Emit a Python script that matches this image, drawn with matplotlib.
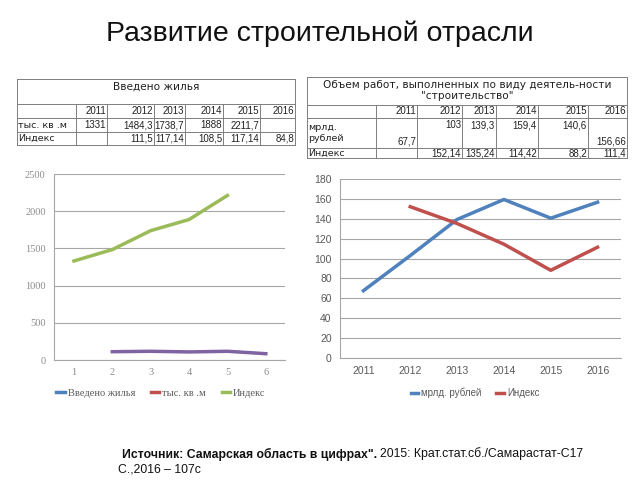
import matplotlib.pyplot as plt

years = [2011, 2012, 2013, 2014, 2015, 2016]
housing = [1331, 1484.3, 1738.7, 1888, 2211.7, None]
housing_idx = [None, 111.5, 117.14, 108.5, 117.14, 84.8]
works = [67.7, 103, 139.3, 159.4, 140.6, 156.66]
works_idx = [None, 152.14, 135.24, 114.42, 88.2, 111.4]

left_title = "Введено жилья"
left_rows = ["тыс. кв .м", "Индекс"]
right_title = "Объем работ, выполненных по виду деятель-ности\n\"строительство\""
right_rows = ["мрлд.\nрублей", "Индекс"]
left_legend = ["Введено жилья", "тыс. кв .м", "Индекс"]
right_legend = ["мрлд. рублей", "Индекс"]

BLUE, RED, GREEN, PURPLE = "#4F81BD", "#C0504D", "#9BBB59", "#8064A2"
GRID = "#a6a6a6"
TXT = "#595959"

plt.rcParams['font.family'] = ['Liberation Sans', 'DejaVu Sans']


def fmt(v):
    return "" if v is None else f"{v:g}".replace('.', ',')


fig = plt.figure(figsize=(6.4, 4.8), dpi=100)
ov = fig.add_axes([0, 0, 1, 1])
ov.set_xlim(0, 640)
ov.set_ylim(480, 0)
ov.axis('off')

ov.text(320, 34, "Развитие строительной отрасли", fontsize=20.5, ha='center', va='center', color='#111111')


def table(cx, ry, title, labels, rows, row_va):
    lc = "#7f7f7f"
    for y in ry:
        ov.plot([cx[0], cx[-1]], [y, y], color=lc, lw=0.7)
    for i, x in enumerate(cx):
        top = ry[0] if i in (0, len(cx) - 1) else ry[1]
        ov.plot([x, x], [top, ry[-1]], color=lc, lw=0.7)
    ov.text((cx[0] + cx[-1]) / 2, ry[0] + 3, title, ha='center', va='top', fontsize=7.6, color='#222222',
            linespacing=1.1, family='DejaVu Sans')
    for j, yr in enumerate(years):
        ov.text(cx[j + 2] - 1, (ry[1] + ry[2]) / 2, str(yr), ha='right', va='center', fontsize=7,
                color='#222222')
    for r, (lab, vals) in enumerate(zip(labels, rows)):
        y0, y1 = ry[2 + r], ry[3 + r]
        ov.text(cx[0] + 1, (y0 + y1) / 2, lab, ha='left', va='center', fontsize=6.8, color='#222222',
                linespacing=1.2, family='DejaVu Sans')
        for j, v in enumerate(vals):
            va = row_va[r][j]
            yy = {'center': (y0 + y1) / 2, 'top': y0 + 2, 'bottom': y1 - 1}[va]
            ov.text(cx[j + 2] - 1, yy, fmt(v), ha='right', va=va, fontsize=7, color='#222222')


table([17, 76, 107, 154, 185, 223, 260, 295], [79, 104, 118, 132, 145], left_title, left_rows,
      [housing, housing_idx], [['center'] * 6, ['center'] * 6])
table([307, 376, 417, 462, 496, 538, 588, 627], [77, 105, 118, 148, 158], right_title, right_rows,
      [works, works_idx], [['bottom', 'top', 'top', 'top', 'top', 'bottom'], ['center'] * 6])


def style(ax):
    ax.grid(axis='y', color=GRID, lw=0.8)
    ax.set_axisbelow(True)
    for s in ['top', 'right']:
        ax.spines[s].set_visible(False)
    for s in ['left', 'bottom']:
        ax.spines[s].set_color(GRID)
    ax.tick_params(length=0, colors=TXT, labelsize=7.5, pad=6)


# left chart
ax1 = fig.add_axes([54 / 640, 1 - 360 / 480, 231 / 640, 186 / 480])
idx = list(range(1, len(years) + 1))
ax1.plot(idx, [float('nan')] * 6, color=BLUE, lw=2.5, label=left_legend[0])
ax1.plot(idx, [float('nan')] * 6, color=RED, lw=2.5, label=left_legend[1])
ax1.plot(idx, [float('nan') if v is None else v for v in housing], color=GREEN, lw=2.5, label=left_legend[2])
ax1.plot(idx, [float('nan') if v is None else v for v in housing_idx], color=PURPLE, lw=2.5)
ax1.set_xlim(0.48, 6.5)
ax1.set_ylim(0, 2500)
ax1.set_xticks(idx)
ax1.set_yticks(range(0, 2501, 500))
style(ax1)
for t in ax1.get_xticklabels() + ax1.get_yticklabels():
    t.set_family(['Liberation Serif', 'DejaVu Serif'])
    t.set_color('#8c8c8c')
ax1.legend(loc='center', bbox_to_anchor=(161 / 640, 1 - 393 / 480), bbox_transform=fig.transFigure,
           ncol=3, frameon=False, handlelength=0.8, handletextpad=0.3, columnspacing=1.5,
           labelcolor=TXT, prop={'family': ['Liberation Serif', 'DejaVu Serif'], 'size': 7.5})

# right chart
ax2 = fig.add_axes([340 / 640, 1 - 358 / 480, 281 / 640, 179 / 480])
ax2.plot(years, works, color=BLUE, lw=2.5, label=right_legend[0])
ax2.plot(years, [float('nan') if v is None else v for v in works_idx], color=RED, lw=2.5, label=right_legend[1])
ax2.set_xlim(2010.5, 2016.5)
ax2.set_ylim(0, 180)
ax2.set_xticks(years)
ax2.set_yticks(range(0, 181, 20))
style(ax2)
ax2.legend(loc='center', bbox_to_anchor=(475 / 640, 1 - 393 / 480), bbox_transform=fig.transFigure,
           ncol=2, frameon=False, fontsize=7, handlelength=0.8, handletextpad=0.3, columnspacing=1.5,
           labelcolor=TXT)

# source note
t1 = ov.text(122, 454, "Источник: Самарская область в цифрах\". ", fontsize=8.8, fontweight='bold',
             ha='left', va='center', color='#111111')
fig.canvas.draw()
bb = t1.get_window_extent()
x_end = bb.x1 * 640 / fig.bbox.width
ov.text(x_end, 454, "2015: Крат.стат.сб./Самарастат-С17", fontsize=8.8, ha='left', va='center', color='#111111')
ov.text(118, 469, "С.,2016 – 107с", fontsize=8.8, ha='left', va='center', color='#111111')

fig.savefig("out.png", dpi=100)
